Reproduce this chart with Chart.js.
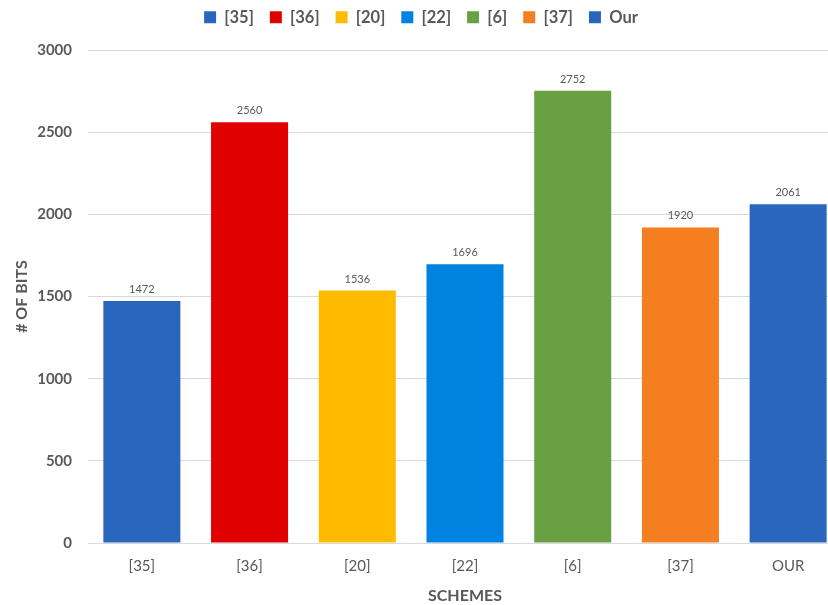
<!DOCTYPE html>
<html>
<head>
<meta charset="utf-8">
<script src="https://cdn.jsdelivr.net/npm/chart.js@4/dist/chart.umd.min.js"></script>
<style>
html,body{margin:0;padding:0;background:#fff;}
#wrap{width:828px;height:605px;position:relative;overflow:hidden;}
</style>
</head>
<body>
<div id="wrap"><canvas id="c" width="842" height="605" style="width:842px;height:605px;display:block;"></canvas></div>
<script>
const categories = ["[35]", "[36]", "[20]", "[22]", "[6]", "[37]", "OUR"];
const legendNames = ["[35]", "[36]", "[20]", "[22]", "[6]", "[37]", "Our"];
const bitValues = [1472, 2560, 1536, 1696, 2752, 1920, 2061];
const barColors = ["#2966BE", "#E10000", "#FFBB00", "#0082E0", "#69A044", "#F57E21", "#2966BE"];
const yTicks = [0, 500, 1000, 1500, 2000, 2500, 3000];

const FONT = "Lato, 'Open Sans', sans-serif";
const GRAY = "#595959";

const datasets = legendNames.map((name, i) => ({
  label: name,
  data: categories.map((c, j) => (j === i ? bitValues[i] : null)),
  backgroundColor: barColors[i],
  borderWidth: 0,
  grouped: false,
  categoryPercentage: 0.715,
  barPercentage: 1.0
}));

const valueLabels = {
  id: 'valueLabels',
  afterDatasetsDraw(chart) {
    const ctx = chart.ctx;
    ctx.save();
    ctx.font = "11px " + FONT;
    ctx.fillStyle = GRAY;
    ctx.textAlign = 'center';
    ctx.textBaseline = 'alphabetic';
    chart.data.datasets.forEach((ds, i) => {
      const meta = chart.getDatasetMeta(i);
      meta.data.forEach((bar, j) => {
        const v = ds.data[j];
        if (v === null || v === undefined) return;
        ctx.fillText(String(v), bar.x, bar.y - 8);
      });
    });
    ctx.restore();
  }
};

const legendSize = {
  id: 'legendSize',
  afterInit(chart) {
    const lg = chart.legend;
    const orig = lg.fit;
    lg.fit = function () { orig.call(this); this.height = 57; };
  }
};

new Chart(document.getElementById('c'), {
  type: 'bar',
  data: { labels: categories, datasets: datasets },
  options: {
    responsive: false,
    animation: false,
    devicePixelRatio: 1,
    layout: { padding: { top: -7, right: 0, left: 0, bottom: 0 } },
    plugins: {
      legend: {
        display: true,
        position: 'top',
        labels: {
          boxWidth: 12,
          boxHeight: 12,
          padding: 16,
          color: GRAY,
          font: { family: FONT, size: 16.5, weight: 'bold' }
        }
      },
      tooltip: { enabled: false }
    },
    scales: {
      x: {
        grid: { display: false, drawTicks: false },
        border: { display: true, color: '#D9D9D9', width: 1 },
        ticks: { color: GRAY, font: { family: FONT, size: 15 }, padding: 14 },
        title: { display: true, text: 'SCHEMES', color: GRAY, font: { family: FONT, size: 16, weight: 'bold' }, padding: { top: 0, bottom: 0 } },
        afterFit(s) { s.height = 62; }
      },
      y: {
        min: 0, max: 3000,
        afterBuildTicks(s) { s.ticks = yTicks.map(v => ({ value: v })); },
        grid: { color: '#D9D9D9', drawTicks: false, lineWidth: 1 },
        border: { display: false },
        ticks: { color: GRAY, font: { family: FONT, size: 15, weight: 'bold' }, padding: 16, callback: v => String(v) },
        title: { display: true, text: '# OF BITS', color: GRAY, font: { family: FONT, size: 16, weight: 'bold' }, padding: { top: 12, bottom: 0 } },
        afterFit(s) { s.width = 88; }
      }
    }
  },
  plugins: [valueLabels, legendSize]
});
</script>
</body>
</html>
